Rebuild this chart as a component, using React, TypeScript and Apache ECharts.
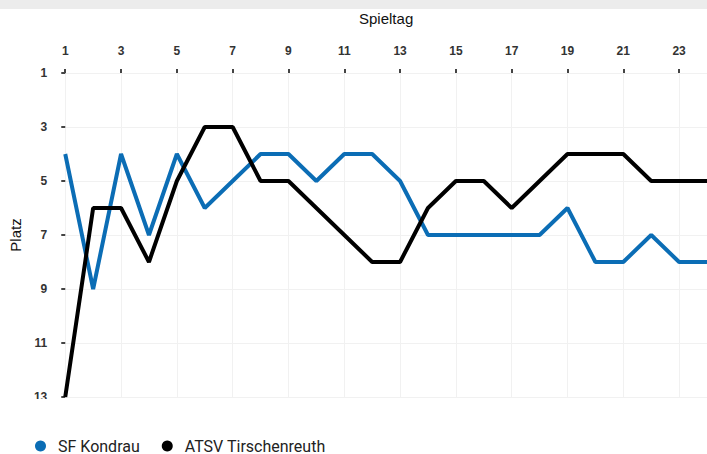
import React, { useEffect, useRef } from "react";
import * as echarts from "echarts";

const spieltage = ["1","2","3","4","5","6","7","8","9","10","11","12","13","14","15","16","17","18","19","20","21","22","23","24"];
const kondrau = [4, 9, 4, 7, 4, 6, 5, 4, 4, 5, 4, 4, 5, 7, 7, 7, 7, 7, 6, 8, 8, 7, 8, 8];
const tirschenreuth = [13, 6, 6, 8, 5, 3, 3, 5, 5, 6, 7, 8, 8, 6, 5, 5, 6, 5, 4, 4, 4, 5, 5, 5];
const seriesNames = ["SF Kondrau", "ATSV Tirschenreuth"];
const colors = ["#0b6db5", "#000000"];

export default function App() {
  const ref = useRef<HTMLDivElement>(null);
  useEffect(() => {
    if (!ref.current) return;
    const chart = echarts.init(ref.current, null, { renderer: "svg" });
    const font = "'Liberation Sans', Arial, sans-serif";
    const legendFont = "Roboto, sans-serif";
    chart.setOption({
      animation: false,
      textStyle: { fontFamily: font },
      grid: { left: 63, right: -3, top: 73, bottom: 57, containLabel: false },
      legend: {
        left: 30,
        top: 436,
        padding: [2, 5, 2, 5],
        icon: "circle",
        itemWidth: 25,
        itemHeight: 11,
        itemGap: 22,
        textStyle: { fontSize: 16, lineHeight: 13, color: "#222", fontFamily: legendFont },
        data: seriesNames,
      },
      xAxis: {
        type: "category",
        position: "top",
        data: spieltage,
        boundaryGap: false,
        name: "Spieltag",
        nameLocation: "middle",
        nameGap: 47,
        nameTextStyle: { fontSize: 15, color: "#111", fontFamily: font },
        axisLine: { show: false },
        axisTick: { show: true, interval: 1, length: 4, lineStyle: { color: "#444", width: 2 } },
        axisLabel: { interval: 1, margin: 16, fontSize: 12, color: "#333", fontWeight: "bold", fontFamily: font },
        splitLine: { show: true, interval: 1, lineStyle: { color: "#f1f1f1", width: 1 } },
      },
      yAxis: {
        type: "value",
        inverse: true,
        min: 1,
        max: 13,
        interval: 2,
        name: "Platz",
        nameLocation: "middle",
        nameGap: 38,
        nameTextStyle: { fontSize: 15, color: "#111", fontFamily: font },
        axisLine: { show: false },
        axisTick: { show: true, length: 4, lineStyle: { color: "#444", width: 2 } },
        axisLabel: { margin: 18, fontSize: 12, color: "#333", fontWeight: "bold", fontFamily: font },
        splitLine: { show: true, lineStyle: { color: "#f1f1f1", width: 1 } },
      },
      series: [
        {
          name: seriesNames[0],
          type: "line",
          data: kondrau,
          color: colors[0],
          symbol: "none",
          lineStyle: { width: 4, color: colors[0] },
        },
        {
          name: seriesNames[1],
          type: "line",
          data: tirschenreuth,
          color: colors[1],
          symbol: "none",
          lineStyle: { width: 4, color: colors[1] },
        },
      ],
      graphic: [
        { type: "rect", left: 0, top: 0, shape: { width: 707, height: 9 }, style: { fill: "#ececec" }, z: 100 },
        { type: "rect", left: 0, top: 399, shape: { width: 707, height: 33 }, style: { fill: "#ffffff" }, z: 100 },
      ],
    });
    return () => chart.dispose();
  }, []);
  return <div ref={ref} style={{ position: "fixed", left: 0, top: 0, width: 707, height: 454, background: "#fff" }} />;
}
